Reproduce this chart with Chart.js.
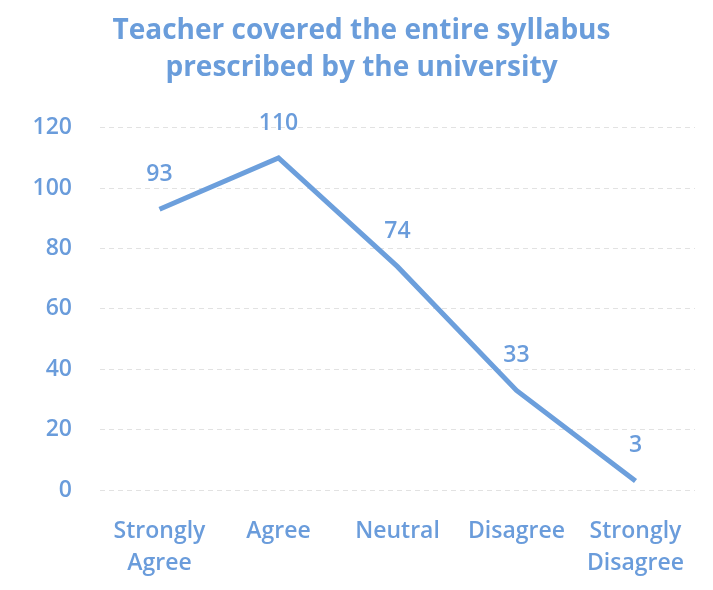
<!DOCTYPE html>
<html>
<head>
<meta charset="utf-8">
<script src="https://cdn.jsdelivr.net/npm/chart.js@4"></script>
<style>
  html, body { margin: 0; padding: 0; background: #fff; }
  #wrap { width: 713px; height: 590px; }
</style>
</head>
<body>
<div id="wrap"><canvas id="line-chart" width="713" height="590"></canvas></div>
<script>
// chart data
const categories = [['Strongly', 'Agree'], 'Agree', 'Neutral', 'Disagree', ['Strongly', 'Disagree']];
const responses = [93, 110, 74, 33, 3];
const titleLines = ['Teacher covered the entire syllabus', 'prescribed by the university'];

const blue = '#6c9fdc';
const textBlue = '#6a9cdb';
const fontFamily = '"Open Sans", "Noto Sans", sans-serif';

// draws the value above each point
const valueLabels = {
    id: 'valueLabels',
    afterDatasetsDraw(chart) {
        const ctx = chart.ctx;
        const meta = chart.getDatasetMeta(0);
        ctx.save();
        ctx.fillStyle = textBlue;
        ctx.font = '600 23px ' + fontFamily;
        ctx.textAlign = 'center';
        ctx.textBaseline = 'middle';
        meta.data.forEach((pt, i) => {
            ctx.fillText(String(chart.data.datasets[0].data[i]), pt.x, pt.y - 35);
        });
        ctx.restore();
    }
};

const ctx = document.getElementById('line-chart').getContext('2d');
new Chart(ctx, {
    type: 'line',
    data: {
        labels: categories,
        datasets: [{
            data: responses,
            borderColor: blue,
            borderWidth: 5,
            pointRadius: 0,
            tension: 0,
            fill: false
        }]
    },
    options: {
        responsive: false,
        animation: false,
        layout: { padding: { left: 14, right: 4, top: 0, bottom: 0 } },
        plugins: {
            legend: { display: false },
            tooltip: { enabled: false },
            title: {
                display: true,
                text: titleLines,
                color: '#6a9ddb',
                font: { family: fontFamily, size: 28, weight: 'bold', lineHeight: 1.3 },
                padding: { top: 13, bottom: 42 }
            }
        },
        scales: {
            x: {
                offset: true,
                grid: { display: false },
                border: { display: false },
                ticks: {
                    color: textBlue,
                    font: { family: fontFamily, size: 23, weight: '600', lineHeight: 1.4 },
                    padding: 17,
                    maxRotation: 0,
                    autoSkip: false
                },
                afterFit: (scale) => { scale.height = 100; }
            },
            y: {
                min: 0,
                max: 120,
                grid: {
                    color: '#e2e2e2',
                    lineWidth: 1,
                    drawTicks: false
                },
                border: { display: false, dash: [5, 4] },
                ticks: {
                    stepSize: 20,
                    color: textBlue,
                    font: { family: fontFamily, size: 23, weight: '600' },
                    padding: 28
                },
                afterFit: (scale) => { scale.width = 86; }
            },
            // empty right-hand axis, only keeps space so the title sits centred on the page
            yRight: {
                position: 'right',
                min: 0,
                max: 120,
                grid: { display: false },
                border: { display: false },
                ticks: { display: false },
                afterFit: (scale) => { scale.width = 14; }
            }
        }
    },
    plugins: [valueLabels]
});
</script>
</body>
</html>
